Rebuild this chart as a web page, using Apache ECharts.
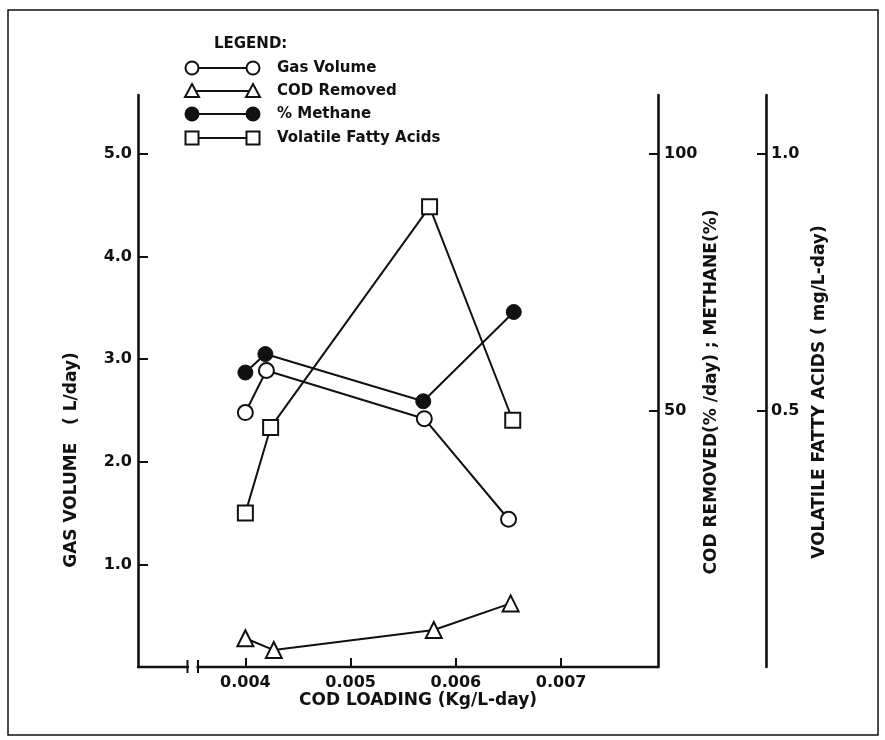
<!DOCTYPE html>
<html>
<head>
<meta charset="utf-8">
<script src="https://cdn.jsdelivr.net/npm/echarts@6/dist/echarts.min.js"></script>
<style>
  html, body { margin: 0; padding: 0; background: #fff; }
  #chart { width: 885px; height: 740px; }
</style>
</head>
<body>
<div id="chart"></div>
<script>
// COD loading (Kg/L-day) for each plotted series
const gasLoading = [0.0040, 0.0042, 0.0057, 0.0065];
const methaneLoading = [0.0040, 0.00419, 0.00569, 0.00655];
const codLoading = [0.0040, 0.00427, 0.00579, 0.00652];
const vfaLoading = [0.0040, 0.00424, 0.00575, 0.00654];

// Measured responses
const gasVolume = [2.48, 2.89, 2.42, 1.44];        // L/day
const methanePct = [57.4, 61.0, 51.8, 69.2];       // %
const codRemoved = [5.6, 3.3, 7.2, 12.4];          // %/day
const vfaValues = [0.30, 0.467, 0.897, 0.481];     // mg/L-day

// Tick labels
const xTicks = [0.004, 0.005, 0.006, 0.007];
const gasTicks = [1, 2, 3, 4, 5];
const codTicks = [50, 100];
const vfaTicks = [0.5, 1.0];

// Axis break position on the loading axis
const breakMarks = [0.00345, 0.00355];

const FONT = 'DejaVu Sans';
const INK = '#111';

function pairs(xs, ys) { return xs.map((x, i) => [x, ys[i]]); }

const chart = echarts.init(document.getElementById('chart'), null, { renderer: 'canvas' });

const lineBase = {
  type: 'line',
  symbolSize: 15,
  lineStyle: { color: INK, width: 2 },
  itemStyle: { color: '#fff', borderColor: INK, borderWidth: 2 },
  emphasis: { disabled: true },
  animation: false,
  z: 3
};

// legend rows drawn as symbol — line — symbol + caption
const legendRows = [
  { y: 68, text: 'Gas Volume', sym: 'circle', fill: '#fff' },
  { y: 91, text: 'COD Removed', sym: 'triangle', fill: '#fff' },
  { y: 114, text: '% Methane', sym: 'circle', fill: INK },
  { y: 138, text: 'Volatile Fatty Acids', sym: 'rect', fill: '#fff' }
];
function legendSymbol(kind, cx, cy, fill) {
  const style = { fill: fill, stroke: INK, lineWidth: 2 };
  if (kind === 'circle') return { type: 'circle', shape: { cx: cx, cy: cy, r: 6.5 }, style: style };
  if (kind === 'rect') return { type: 'rect', shape: { x: cx - 6.5, y: cy - 6.5, width: 13, height: 13 }, style: style };
  return { type: 'polygon', shape: { points: [[cx, cy - 7], [cx + 7, cy + 6], [cx - 7, cy + 6]] }, style: style };
}
const legendGraphics = [{
  type: 'text', left: 214, top: 37,
  style: { text: 'LEGEND:', font: 'bold 15px ' + FONT, fill: INK }
}];
legendRows.forEach(r => {
  legendGraphics.push({ type: 'line', shape: { x1: 192, y1: r.y, x2: 253, y2: r.y }, style: { stroke: INK, lineWidth: 2 } });
  legendGraphics.push(legendSymbol(r.sym, 192, r.y, r.fill));
  legendGraphics.push(legendSymbol(r.sym, 253, r.y, r.fill));
  legendGraphics.push({
    type: 'text', x: 277, y: r.y,
    style: { text: r.text, font: 'bold 15px ' + FONT, fill: INK, verticalAlign: 'middle' }
  });
});

const titleStyle = { font: 'bold 17px ' + FONT, fill: INK, align: 'center', verticalAlign: 'middle' };
const tickFont = { fontFamily: FONT, fontSize: 16, fontWeight: 'bold', color: INK };

const option = {
  backgroundColor: '#fff',
  animation: false,
  grid: { left: 138, right: 227, top: 95, bottom: 73, containLabel: false },
  xAxis: {
    type: 'value',
    min: 0.00298,
    max: 0.00792,
    axisLine: { show: true, lineStyle: { color: INK, width: 2.4 } },
    axisTick: { show: true, inside: true, length: 9, customValues: xTicks, lineStyle: { color: INK, width: 2 } },
    axisLabel: Object.assign({ customValues: xTicks, margin: 8, formatter: v => v.toFixed(3) }, tickFont),
    splitLine: { show: false }
  },
  yAxis: [
    {
      type: 'value', position: 'left', min: 0, max: 5.575,
      axisLine: { show: true, onZero: false, lineStyle: { color: INK, width: 2.6 } },
      axisTick: { show: true, inside: true, length: 10, customValues: gasTicks, lineStyle: { color: INK, width: 2 } },
      axisLabel: Object.assign({ customValues: gasTicks, margin: 6, formatter: v => v.toFixed(1) }, tickFont),
      splitLine: { show: false }
    },
    {
      type: 'value', position: 'right', min: 0, max: 111.5,
      axisLine: { show: true, onZero: false, lineStyle: { color: INK, width: 2.6 } },
      axisTick: { show: true, inside: true, length: 9, customValues: codTicks, lineStyle: { color: INK, width: 2 } },
      axisLabel: Object.assign({ customValues: codTicks, margin: 6, formatter: v => String(v) }, tickFont),
      splitLine: { show: false }
    },
    {
      type: 'value', position: 'right', offset: 108, min: 0, max: 1.115,
      axisLine: { show: true, onZero: false, lineStyle: { color: INK, width: 2.6 } },
      axisTick: { show: true, inside: true, length: 9, customValues: vfaTicks, lineStyle: { color: INK, width: 2 } },
      axisLabel: Object.assign({ customValues: vfaTicks, margin: 5, formatter: v => v.toFixed(1) }, tickFont),
      splitLine: { show: false }
    }
  ],
  graphic: [
    { type: 'rect', shape: { x: 8, y: 10, width: 870, height: 725 }, style: { fill: 'none', stroke: INK, lineWidth: 1.5 }, silent: true },
    { type: 'text', x: 418, y: 701, style: Object.assign({ text: 'COD LOADING (Kg/L-day)' }, titleStyle) },
    { type: 'text', x: 72, y: 460, rotation: Math.PI / 2, style: Object.assign({ text: 'GAS VOLUME   ( L/day)' }, titleStyle) },
    { type: 'text', x: 712, y: 392, rotation: Math.PI / 2, style: Object.assign({ text: 'COD REMOVED(% /day) ; METHANE(%)' }, titleStyle) },
    { type: 'text', x: 820, y: 392, rotation: Math.PI / 2, style: Object.assign({ text: 'VOLATILE FATTY ACIDS ( mg/L-day)' }, titleStyle) }
  ].concat(legendGraphics),
  series: [
    Object.assign({}, lineBase, {
      name: 'Gas Volume', yAxisIndex: 0, symbol: 'circle',
      data: pairs(gasLoading, gasVolume)
    }),
    Object.assign({}, lineBase, {
      name: 'COD Removed', yAxisIndex: 1, symbol: 'triangle', symbolSize: 16,
      data: pairs(codLoading, codRemoved)
    }),
    Object.assign({}, lineBase, {
      name: '% Methane', yAxisIndex: 1, symbol: 'circle',
      itemStyle: { color: INK, borderColor: INK, borderWidth: 1 },
      data: pairs(methaneLoading, methanePct)
    }),
    Object.assign({}, lineBase, {
      name: 'Volatile Fatty Acids', yAxisIndex: 2, symbol: 'rect', symbolSize: 15,
      data: pairs(vfaLoading, vfaValues)
    }),
    {
      // axis break on the loading axis: gap plus two short bars
      type: 'custom',
      silent: true,
      z: 10,
      data: [breakMarks],
      renderItem: function (params, api) {
        const a = api.coord([api.value(0), 0]);
        const b = api.coord([api.value(1), 0]);
        return {
          type: 'group',
          children: [
            { type: 'rect', shape: { x: a[0] + 1.5, y: a[1] - 3, width: b[0] - a[0] - 3, height: 6 }, style: { fill: '#fff' } },
            { type: 'line', shape: { x1: a[0], y1: a[1] - 7, x2: a[0], y2: a[1] + 6 }, style: { stroke: INK, lineWidth: 2 } },
            { type: 'line', shape: { x1: b[0], y1: b[1] - 7, x2: b[0], y2: b[1] + 6 }, style: { stroke: INK, lineWidth: 2 } }
          ]
        };
      },
      encode: { x: [0, 1] }
    }
  ]
};

chart.setOption(option);
</script>
</body>
</html>
